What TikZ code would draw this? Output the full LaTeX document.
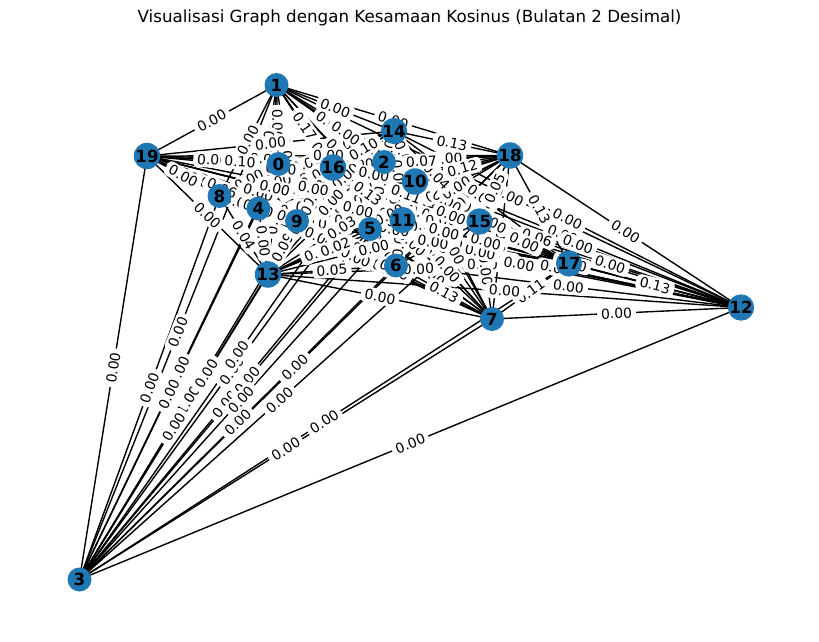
\documentclass[tikz,border=0pt]{standalone}
\usepackage{fontspec}
\setmainfont{DejaVu Sans}
\definecolor{nxblue}{HTML}{1F77B4}
\pgfdeclarelayer{edgelines}
\pgfdeclarelayer{edgelabels}
\pgfsetlayers{edgelines,edgelabels,main}

% cosine weights that differ from 0.00 (pairs written with the smaller index first)
\newcommand\setweight[3]{\expandafter\def\csname wt-#1-#2\endcsname{#3}}
\newcommand\weightof[2]{\ifcsname wt-#1-#2\endcsname\csname wt-#1-#2\endcsname\else 0.00\fi}
\setweight{1}{16}{0.17}
\setweight{16}{19}{0.10}
\setweight{14}{18}{0.13}
\setweight{16}{18}{0.07}
\setweight{10}{18}{0.12}
\setweight{15}{18}{0.05}
\setweight{17}{18}{0.13}
\setweight{15}{16}{0.11}
\setweight{11}{16}{0.13}
\setweight{14}{16}{0.10}
\setweight{9}{13}{0.09}
\setweight{8}{13}{0.04}
\setweight{6}{13}{0.05}
\setweight{11}{13}{0.02}
\setweight{10}{13}{0.03}
\setweight{9}{16}{0.03}
\setweight{6}{7}{0.13}
\setweight{7}{17}{0.11}
\setweight{12}{17}{0.13}
\setweight{14}{15}{0.04}
\setweight{9}{19}{0.06}
\setweight{3}{9}{1.00}
\setweight{12}{16}{0.06}

\begin{document}
\begin{tikzpicture}[x=1pt,y=-1pt,
  vert/.style={circle, fill=nxblue, minimum size=24pt, inner sep=0pt,
    font=\fontsize{16.7}{18}\selectfont\bfseries},
  elabel/.style={fill=white, rounded corners=4pt, inner xsep=4pt, inner ysep=2.5pt,
    sloped, font=\fontsize{13.9}{15}\selectfont},
  edgeline/.style={line width=1.39pt, black}]
\useasboundingbox (0,0) rectangle (819,642);

\node[font=\fontsize{16.7}{18}\selectfont] (title) at (409.5,18)
  {Visualisasi Graph dengan Kesamaan Kosinus (Bulatan 2 Desimal)};

% vertices
\foreach \n/\x/\y in {0/278.5/164, 1/276.5/85, 2/384/162, 3/79.5/579.5,
    4/258.5/208.5, 5/370/229, 6/396/265.5, 7/492/319, 8/219.5/196,
    9/297/221, 10/415/181.5, 11/402.5/220, 12/741/307.5, 13/268/274.5,
    14/394/131, 15/479.5/221.5, 16/333/167.5, 17/569/263.5, 18/510/155.5,
    19/147/156}
  \node[vert] (n\n) at (\x,\y) {\n};

% every pair of vertices is joined
\begin{pgfonlayer}{edgelines}
\foreach \i in {0,...,18}{
  \pgfmathtruncatemacro\jstart{\i+1}
  \foreach \j in {\jstart,...,19}{
    \draw[edgeline] (n\i.center) -- (n\j.center);
  }
}
\end{pgfonlayer}

% similarity labels at the middle of each edge
\begin{pgfonlayer}{edgelabels}
\foreach \i in {0,...,18}{
  \pgfmathtruncatemacro\jstart{\i+1}
  \foreach \j in {\jstart,...,19}{
    \path (n\i.center) -- (n\j.center) node[elabel, midway] {\weightof{\i}{\j}};
  }
}
\end{pgfonlayer}
\end{tikzpicture}
\end{document}
